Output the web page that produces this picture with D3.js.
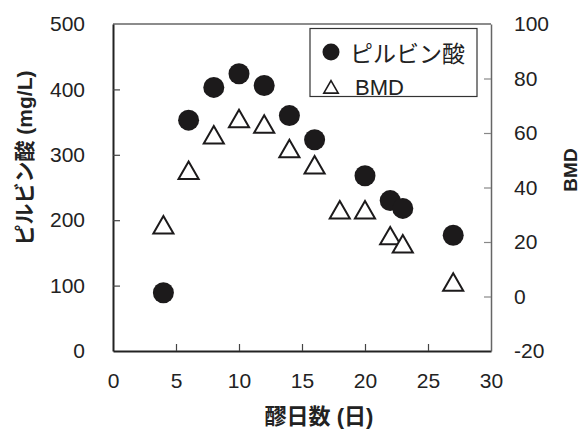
<!DOCTYPE html>
<html>
<head>
<meta charset="utf-8">
<script src="https://cdn.jsdelivr.net/npm/d3@7"></script>
<style>
  body { margin: 0; background: #fff; }
  svg text { font-family: "Liberation Sans", Arial, "Noto Sans CJK JP", sans-serif; fill: #222; }
</style>
</head>
<body>
<svg id="chart" width="580" height="430"></svg>
<script>
// data
var days     = [4, 6, 8, 10, 12, 14, 16, 20, 22, 23, 27];
var pyruvate = [89, 353, 403, 424, 406, 360, 323, 268, 230, 218, 177];
var bmdDays  = [4, 6, 8, 10, 12, 14, 16, 18, 20, 22, 23, 27];
var bmd      = [26, 46, 59, 65, 63, 54, 48, 31.5, 31.5, 22, 19, 5];

var xTicks = [0, 5, 10, 15, 20, 25, 30];
var yLeftTicks = [0, 100, 200, 300, 400, 500];
var yRightTicks = [-20, 0, 20, 40, 60, 80, 100];

var svg = d3.select("#chart");
var plotL = 113, plotR = 491, plotT = 24, plotB = 351;

var x = d3.scaleLinear().domain([0, 30]).range([plotL, plotR]);
var yL = d3.scaleLinear().domain([0, 500]).range([plotB, plotT]);
var yR = d3.scaleLinear().domain([-20, 100]).range([plotB, plotT]);

// plain hyphen minus like the original
var fmt = d => String(d);

// frame: top/right grey, left/bottom dark
svg.append("line").attr("x1", plotL).attr("x2", plotR).attr("y1", plotT).attr("y2", plotT)
  .attr("stroke", "#666").attr("stroke-width", 1.5);

// axes with inward ticks
var gx = svg.append("g").attr("transform", "translate(0," + plotB + ")")
  .call(d3.axisBottom(x).tickValues(xTicks).tickFormat(fmt).tickSizeInner(-7).tickSizeOuter(0).tickPadding(22));
var gyl = svg.append("g").attr("transform", "translate(" + plotL + ",0)")
  .call(d3.axisLeft(yL).tickValues(yLeftTicks).tickFormat(fmt).tickSizeInner(-7).tickSizeOuter(0).tickPadding(28));
var gyr = svg.append("g").attr("transform", "translate(" + plotR + ",0)")
  .call(d3.axisRight(yR).tickValues(yRightTicks).tickFormat(fmt).tickSizeInner(-7).tickSizeOuter(0).tickPadding(23));

[gx, gyl].forEach(g => {
  g.select(".domain").attr("stroke", "#222").attr("stroke-width", 2);
  g.selectAll(".tick line").attr("stroke", "#444").attr("stroke-width", 1.2);
});
gyr.select(".domain").attr("stroke", "#666").attr("stroke-width", 1.5);
gyr.selectAll(".tick line").attr("stroke", "#888").attr("stroke-width", 1.2);
[gx, gyl, gyr].forEach(g => {
  g.selectAll(".tick text").attr("font-size", 21).attr("fill", "#222")
    .attr("font-family", "'Liberation Sans', Arial, sans-serif");
});
gx.selectAll(".tick").filter(d => d === 0 || d === 30).select("line").remove();
gyl.selectAll(".tick").filter(d => d === 0 || d === 500).select("line").remove();
gyr.selectAll(".tick").filter(d => d === -20 || d === 100).select("line").remove();

// pyruvic acid: filled circles
svg.append("g").selectAll("circle")
  .data(days.map((d, i) => [d, pyruvate[i]]))
  .join("circle")
  .attr("cx", d => x(d[0]))
  .attr("cy", d => yL(d[1]))
  .attr("r", 10.5)
  .attr("fill", "#1c1a1b");

// BMD: open triangles
var tri = d3.symbol().type(d3.symbolTriangle).size(175);
svg.append("g").selectAll("path")
  .data(bmdDays.map((d, i) => [d, bmd[i]]))
  .join("path")
  .attr("d", tri)
  .attr("transform", d => "translate(" + x(d[0]) + "," + (yR(d[1]) + 2) + ")")
  .attr("fill", "#fff")
  .attr("stroke", "#1c1a1b")
  .attr("stroke-width", 2);

// legend
var lg = svg.append("g");
lg.append("rect").attr("x", 310).attr("y", 28.5).attr("width", 167).attr("height", 68)
  .attr("fill", "#fff").attr("stroke", "#333").attr("stroke-width", 1.2);
lg.append("circle").attr("cx", 331).attr("cy", 52).attr("r", 8.5).attr("fill", "#1c1a1b");
lg.append("path").attr("d", d3.symbol().type(d3.symbolTriangle).size(90))
  .attr("transform", "translate(331,89)")
  .attr("fill", "#fff").attr("stroke", "#1c1a1b").attr("stroke-width", 1.6);
lg.append("text").attr("x", 350).attr("y", 62).attr("font-size", 23)
  .attr("font-family", "'Noto Sans CJK JP', sans-serif").text("ピルビン酸");
lg.append("text").attr("x", 355).attr("y", 95).attr("font-size", 22).text("BMD");

// axis titles
svg.append("text")
  .attr("transform", "translate(32,158) rotate(-90)")
  .attr("text-anchor", "middle").attr("font-size", 21).attr("font-weight", "bold")
  .text("ピルビン酸 (mg/L)");
svg.append("text")
  .attr("transform", "translate(577,170) rotate(-90)")
  .attr("text-anchor", "middle").attr("font-size", 19).attr("font-weight", "bold")
  .text("BMD");
svg.append("text")
  .attr("x", 319).attr("y", 424)
  .attr("text-anchor", "middle").attr("font-size", 22).attr("font-weight", "bold")
  .text("醪日数 (日)");
</script>
</body>
</html>
